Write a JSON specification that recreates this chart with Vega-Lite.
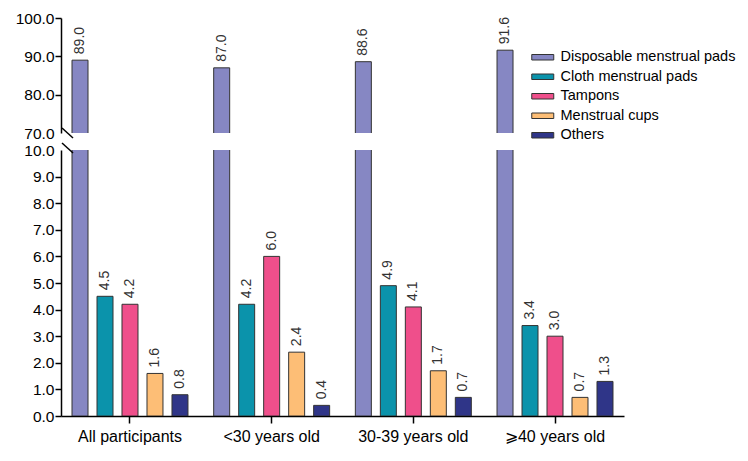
{
  "$schema": "https://vega.github.io/schema/vega-lite/v6.json",
  "padding": {"left": 15, "top": 11, "right": 5, "bottom": 5},
  "config": {
    "font": "Liberation Sans",
    "view": {"stroke": null},
    "axis": {"domainColor": "#000", "domainWidth": 1.5, "tickColor": "#000", "tickWidth": 1.5, "labelColor": "#000", "labelFont": "Liberation Sans", "grid": false, "title": null, "labelOverlap": false},
    "text": {"font": "Liberation Sans"}
  },
  "datasets": {
    "d": [
      {"group": "All participants", "type": "Disposable menstrual pads", "value": 89.0},
      {"group": "All participants", "type": "Cloth menstrual pads", "value": 4.5},
      {"group": "All participants", "type": "Tampons", "value": 4.2},
      {"group": "All participants", "type": "Menstrual cups", "value": 1.6},
      {"group": "All participants", "type": "Others", "value": 0.8},
      {"group": "<30 years old", "type": "Disposable menstrual pads", "value": 87.0},
      {"group": "<30 years old", "type": "Cloth menstrual pads", "value": 4.2},
      {"group": "<30 years old", "type": "Tampons", "value": 6.0},
      {"group": "<30 years old", "type": "Menstrual cups", "value": 2.4},
      {"group": "<30 years old", "type": "Others", "value": 0.4},
      {"group": "30-39 years old", "type": "Disposable menstrual pads", "value": 88.6},
      {"group": "30-39 years old", "type": "Cloth menstrual pads", "value": 4.9},
      {"group": "30-39 years old", "type": "Tampons", "value": 4.1},
      {"group": "30-39 years old", "type": "Menstrual cups", "value": 1.7},
      {"group": "30-39 years old", "type": "Others", "value": 0.7},
      {"group": "⩾40 years old", "type": "Disposable menstrual pads", "value": 91.6},
      {"group": "⩾40 years old", "type": "Cloth menstrual pads", "value": 3.4},
      {"group": "⩾40 years old", "type": "Tampons", "value": 3.0},
      {"group": "⩾40 years old", "type": "Menstrual cups", "value": 0.7},
      {"group": "⩾40 years old", "type": "Others", "value": 1.3}
    ],
    "breakTop": [{"group": "All participants", "value": 70}],
    "breakBottom": [{"group": "All participants", "value": 10}]
  },
  "bounds": "flush",
  "spacing": 17,
  "resolve": {"legend": {"color": "independent"}},
  "vconcat": [
    {
      "width": 563,
      "height": 115,
      "encoding": {
        "x": {"field": "group", "type": "nominal", "sort": ["All participants", "<30 years old", "30-39 years old", "⩾40 years old"], "scale": {"paddingInner": 0.118, "paddingOuter": 0.046}, "axis": null},
        "y": {"field": "value", "type": "quantitative", "scale": {"domain": [70, 100], "nice": false, "zero": false}, "axis": {"values": [70, 80, 90, 100], "format": ".1f", "labelFontSize": 15.5, "tickSize": 6, "labelPadding": 1, "labelOverlap": false, "tickOpacity": {"condition": {"test": "datum.value === 70", "value": 0}, "value": 1}}}
      },
      "layer": [
        {
          "data": {"name": "d"},
          "mark": {"type": "bar", "clip": true, "stroke": "#333", "strokeWidth": 1},
          "encoding": {
            "xOffset": {"field": "type", "type": "nominal", "sort": ["Disposable menstrual pads", "Cloth menstrual pads", "Tampons", "Menstrual cups", "Others"], "scale": {"paddingInner": 0.36, "paddingOuter": 0.18}},
            "color": {"field": "type", "type": "nominal", "sort": ["Disposable menstrual pads", "Cloth menstrual pads", "Tampons", "Menstrual cups", "Others"], "scale": {"domain": ["Disposable menstrual pads", "Cloth menstrual pads", "Tampons", "Menstrual cups", "Others"], "range": ["#8687C3", "#0B93AB", "#EF4F8B", "#FDBE76", "#2F3588"]}, "legend": {"title": null, "orient": "none", "legendX": 474.5, "legendY": 32, "symbolType": "M-2,-0.5H2V0.5H-2Z", "symbolSize": 121, "symbolStrokeColor": "#333", "symbolStrokeWidth": 1, "labelFontSize": 14.5, "labelColor": "#000", "labelFont": "Liberation Sans", "rowPadding": 4.5, "labelOffset": 10.5, "labelLimit": 300, "padding": 0}}
          }
        },
        {
          "data": {"name": "d"},
          "transform": [{"filter": "datum.type === 'Disposable menstrual pads'"}],
          "mark": {"type": "text", "angle": 270, "align": "left", "baseline": "middle", "dx": 6, "fontSize": 14, "color": "#333"},
          "encoding": {
            "xOffset": {"field": "type", "type": "nominal", "sort": ["Disposable menstrual pads", "Cloth menstrual pads", "Tampons", "Menstrual cups", "Others"]},
            "text": {"field": "value", "type": "quantitative", "format": ".1f"}
          }
        },
        {
          "data": {"name": "breakTop"},
          "mark": {"type": "point", "shape": "M-1,-0.9L1,0.9", "filled": false, "stroke": "#000", "strokeWidth": 1.5, "size": 121, "opacity": 1},
          "encoding": {
            "x": {"field": "group", "type": "nominal", "bandPosition": 0, "sort": ["All participants", "<30 years old", "30-39 years old", "⩾40 years old"]}
          }
        }
      ]
    },
    {
      "width": 563,
      "height": 266,
      "encoding": {
        "x": {"field": "group", "type": "nominal", "sort": ["All participants", "<30 years old", "30-39 years old", "⩾40 years old"], "scale": {"paddingInner": 0.118, "paddingOuter": 0.046}, "axis": {"labelFontSize": 16, "tickSize": 7, "labelPadding": 5, "labelAngle": 0, "labelColor": "#000"}},
        "y": {"field": "value", "type": "quantitative", "scale": {"domain": [0, 10], "nice": false}, "axis": {"values": [0, 1, 2, 3, 4, 5, 6, 7, 8, 9, 10], "format": ".1f", "labelFontSize": 15.5, "tickSize": 6, "labelPadding": 1, "labelOverlap": false, "tickOpacity": {"condition": {"test": "datum.value === 10", "value": 0}, "value": 1}}}
      },
      "layer": [
        {
          "data": {"name": "d"},
          "mark": {"type": "bar", "clip": true, "stroke": "#333", "strokeWidth": 1},
          "encoding": {
            "xOffset": {"field": "type", "type": "nominal", "sort": ["Disposable menstrual pads", "Cloth menstrual pads", "Tampons", "Menstrual cups", "Others"], "scale": {"paddingInner": 0.36, "paddingOuter": 0.18}},
            "color": {"field": "type", "type": "nominal", "sort": ["Disposable menstrual pads", "Cloth menstrual pads", "Tampons", "Menstrual cups", "Others"], "scale": {"domain": ["Disposable menstrual pads", "Cloth menstrual pads", "Tampons", "Menstrual cups", "Others"], "range": ["#8687C3", "#0B93AB", "#EF4F8B", "#FDBE76", "#2F3588"]}, "legend": null}
          }
        },
        {
          "data": {"name": "d"},
          "transform": [{"filter": "datum.type !== 'Disposable menstrual pads'"}],
          "mark": {"type": "text", "angle": 270, "align": "left", "baseline": "middle", "dx": 6, "fontSize": 14, "color": "#333"},
          "encoding": {
            "xOffset": {"field": "type", "type": "nominal", "sort": ["Disposable menstrual pads", "Cloth menstrual pads", "Tampons", "Menstrual cups", "Others"]},
            "text": {"field": "value", "type": "quantitative", "format": ".1f"}
          }
        },
        {
          "data": {"name": "breakBottom"},
          "mark": {"type": "point", "shape": "M-1,-0.9L1,0.9", "filled": false, "stroke": "#000", "strokeWidth": 1.5, "size": 121, "opacity": 1, "yOffset": -2},
          "encoding": {
            "x": {"field": "group", "type": "nominal", "bandPosition": 0, "sort": ["All participants", "<30 years old", "30-39 years old", "⩾40 years old"]}
          }
        }
      ]
    }
  ]
}
